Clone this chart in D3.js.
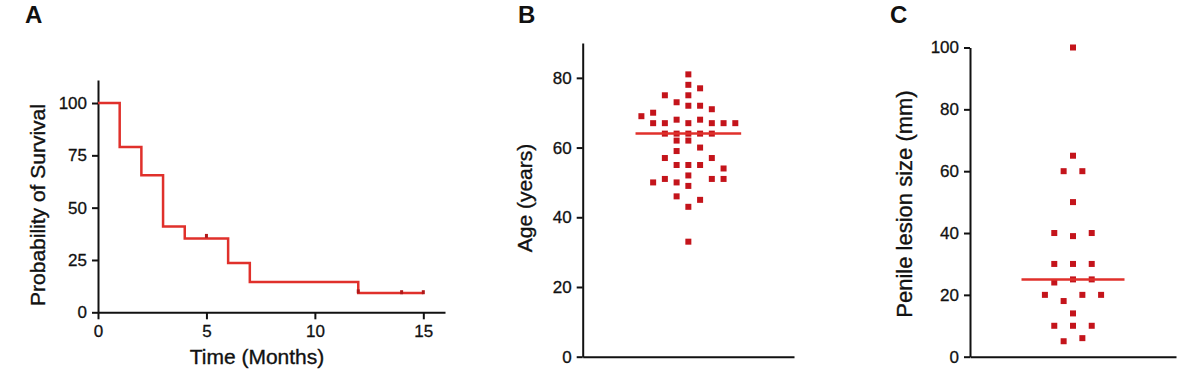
<!DOCTYPE html>
<html>
<head>
<meta charset="utf-8">
<script src="https://cdn.jsdelivr.net/npm/d3@7"></script>
<style>
  body{margin:0;background:#fff;}
  svg text{font-family:"Liberation Sans",Arial,sans-serif;fill:#111;}
  .tick text{font-size:17px;stroke:#111;stroke-width:0.3;}
  .axis path,.axis line{stroke:#111;stroke-width:2;}
  .axis-title{font-size:21px;stroke:#111;stroke-width:0.35;}
  .panel-label{font-size:24px;font-weight:bold;}
</style>
</head>
<body>
<div id="chart"></div>
<script>
// Panel A: Kaplan-Meier survival
var kmTimes=[0,1,2,3,4,6,7,12,15];
var kmSurv=[100,79,65.5,41,35.3,23.5,14.5,9.2,9.2];
var censorTimes=[5,12,14,15];
var censorSurv=[36.5,10,9.6,9.6];
var aXTicks=[0,5,10,15];
var aYTicks=[0,25,50,75,100];

// Panel B: age (years), with beeswarm column slot
var ageVals=[81,78,77,75,75,73,72,72,71,69,70,67,67,68,67,68,67,67,67,64,64,64,64,64,62,62,60,59,57,57,55,55,55,54,52,50,51,50,51,51,49,46,45,43,33];
var ageSlot=[0,0,1,-2,0,-1,0,1,2,-4,-3,-3,-2,-1,0,1,2,3,4,-2,-1,0,1,2,-1,0,1,-1,-2,2,-1,0,1,3,0,-3,-2,-1,2,3,0,-1,1,0,0];
var ageMedian=64;
var bYTicks=[0,20,40,60,80];

// Panel C: penile lesion size (mm)
var lesionVals=[100,65,60,60,50,40,39,40,30,30,30,24,25,25,20,20,20,18,14,10,10,10,5,6];
var lesionSlot=[0,0,-1,1,0,-2,0,2,-2,0,2,-2,0,2,-3,1,3,-1,0,-2,0,2,-1,1];
var lesionMedian=25;
var cYTicks=[0,20,40,60,80,100];

var W=1178,H=382;
var svg=d3.select("#chart").append("svg").attr("width",W).attr("height",H);
var red="#e0302b", dotRed="#c4141b";

/* ---------- A ---------- */
var xA=d3.scaleLinear().domain([0,16]).range([98,445]);
var yA=d3.scaleLinear().domain([0,111]).range([312.3,80]);
svg.append("g").attr("class","axis").attr("transform","translate(0,"+yA(0)+")")
  .call(d3.axisBottom(xA).tickValues(aXTicks).tickSize(7).tickPadding(6).tickSizeOuter(0));
svg.append("g").attr("class","axis").attr("transform","translate("+xA(0)+",0)")
  .call(d3.axisLeft(yA).tickValues(aYTicks).tickSize(6).tickPadding(5).tickSizeOuter(0));

var kmPts=kmTimes.map(function(t,i){return [t,kmSurv[i]];});
svg.append("path").datum(kmPts)
  .attr("d",d3.line().x(function(d){return xA(d[0]);}).y(function(d){return yA(d[1]);}).curve(d3.curveStepAfter))
  .attr("fill","none").attr("stroke",red).attr("stroke-width",2.5);
svg.selectAll("line.censor").data(censorTimes).enter().append("line").attr("class","censor")
  .attr("x1",function(d){return xA(d);}).attr("x2",function(d){return xA(d);})
  .attr("y1",function(d,i){return yA(censorSurv[i])-2;}).attr("y2",function(d,i){return yA(censorSurv[i])+2;})
  .attr("stroke","#b01818").attr("stroke-width",3);

svg.append("text").attr("class","axis-title").attr("x",257).attr("y",364).attr("text-anchor","middle").text("Time (Months)");
svg.append("text").attr("class","axis-title").attr("transform","translate(45,205) rotate(-90)").attr("text-anchor","middle").text("Probability of Survival");
svg.append("text").attr("class","panel-label").attr("x",25).attr("y",23).text("A");

/* ---------- B ---------- */
var xB=d3.scaleLinear().domain([-9,9]).range([582.7,794]);
var yB=d3.scaleLinear().domain([0,90]).range([356.7,43]);
svg.append("g").attr("class","axis").attr("transform","translate(0,"+yB(0)+")")
  .call(d3.axisBottom(xB).tickValues([]).tickSizeOuter(0));
svg.append("g").attr("class","axis").attr("transform","translate("+xB(-9)+",0)")
  .call(d3.axisLeft(yB).tickValues(bYTicks).tickSize(6).tickPadding(5).tickSizeOuter(0));
svg.selectAll("rect.age").data(ageVals).enter().append("rect").attr("class","age")
  .attr("x",function(d,i){return xB(ageSlot[i])-3;}).attr("y",function(d){return yB(d)-3;})
  .attr("width",6).attr("height",6).attr("fill",dotRed);
svg.append("line").attr("x1",xB(-4.5)).attr("x2",xB(4.5)).attr("y1",yB(ageMedian)).attr("y2",yB(ageMedian))
  .attr("stroke",red).attr("stroke-width",2.5);
svg.append("text").attr("class","axis-title").attr("transform","translate(532,198) rotate(-90)").attr("text-anchor","middle").text("Age (years)");
svg.append("text").attr("class","panel-label").attr("x",518).attr("y",23).text("B");

/* ---------- C ---------- */
var xC=d3.scaleLinear().domain([-11,11]).range([970,1176]);
var yC=d3.scaleLinear().domain([0,100]).range([356.7,47.5]);
svg.append("g").attr("class","axis").attr("transform","translate(0,"+yC(0)+")")
  .call(d3.axisBottom(xC).tickValues([]).tickSizeOuter(0));
svg.append("g").attr("class","axis").attr("transform","translate("+xC(-11)+",0)")
  .call(d3.axisLeft(yC).tickValues(cYTicks).tickSize(6).tickPadding(5).tickSizeOuter(0));
svg.selectAll("rect.lesion").data(lesionVals).enter().append("rect").attr("class","lesion")
  .attr("x",function(d,i){return xC(lesionSlot[i])-3;}).attr("y",function(d){return yC(d)-3;})
  .attr("width",6).attr("height",6).attr("fill",dotRed);
svg.append("line").attr("x1",xC(-5.5)).attr("x2",xC(5.5)).attr("y1",yC(lesionMedian)).attr("y2",yC(lesionMedian))
  .attr("stroke",red).attr("stroke-width",2.5);
svg.append("text").attr("class","axis-title").style("font-size","22px").attr("transform","translate(912,204) rotate(-90)").attr("text-anchor","middle").text("Penile lesion size (mm)");
svg.append("text").attr("class","panel-label").attr("x",890).attr("y",23).text("C");
</script>
</body>
</html>
